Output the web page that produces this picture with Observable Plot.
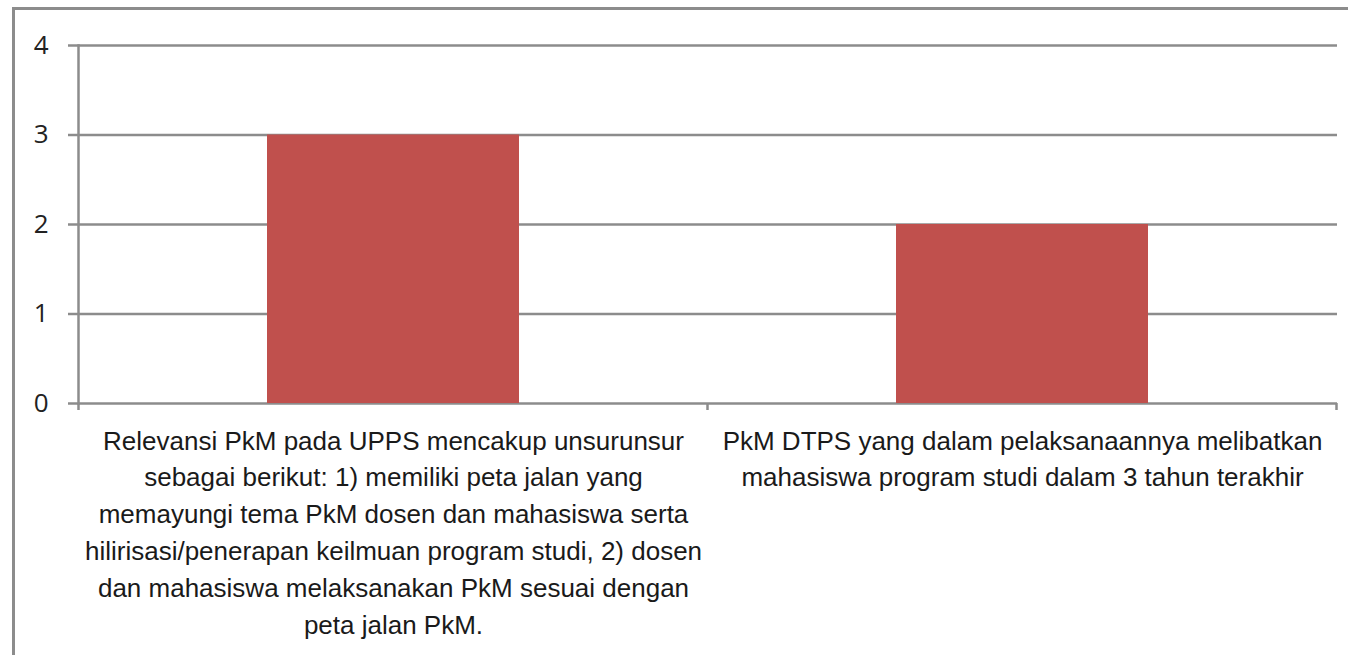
<!DOCTYPE html>
<html>
<head>
<meta charset="utf-8">
<script src="https://cdn.jsdelivr.net/npm/d3@7"></script>
<script src="https://cdn.jsdelivr.net/npm/@observablehq/plot@0.6"></script>
<style>
  html, body { margin: 0; padding: 0; background: #fff; }
  #wrap { position: relative; width: 1348px; height: 655px; overflow: hidden; }
  #frame { position: absolute; left: 12px; top: 7px; width: 1400px; height: 700px;
           border-left: 3px solid #8c8c8c; border-top: 3px solid #8c8c8c; }
  #chart { position: absolute; left: 0; top: 0; }
</style>
</head>
<body>
<div id="wrap"><div id="frame"></div><div id="chart"></div></div>
<script>
const categories = [
  "Relevansi PkM pada UPPS mencakup unsurunsur sebagai berikut: 1) memiliki peta jalan yang memayungi tema PkM dosen dan mahasiswa serta hilirisasi/penerapan keilmuan program studi, 2) dosen dan mahasiswa melaksanakan PkM sesuai dengan peta jalan PkM.",
  "PkM DTPS yang dalam pelaksanaannya melibatkan mahasiswa program studi dalam 3 tahun terakhir"
];
const values = [3, 2];
const tickLabels = [
  "Relevansi PkM pada UPPS mencakup unsurunsur\nsebagai berikut: 1) memiliki peta jalan yang\nmemayungi tema PkM dosen dan mahasiswa serta\nhilirisasi/penerapan keilmuan program studi, 2) dosen\ndan mahasiswa melaksanakan PkM sesuai dengan\npeta jalan PkM.",
  "PkM DTPS yang dalam pelaksanaannya melibatkan\nmahasiswa program studi dalam 3 tahun terakhir"
];
const yTicks = [0, 1, 2, 3, 4];

const data = categories.map((c, i) => ({category: c, value: values[i], label: tickLabels[i]}));
const gridColor = "#8c8c8c";

// ticks at band boundaries along the bottom axis
const boundaryTicks = (index, scales, values, dims) => {
  const x = scales.x;
  const bw = x.bandwidth ? x.bandwidth() : 0;
  const step = x.step ? x.step() : (x(categories[1]) - x(categories[0]));
  const y0 = dims.height - dims.marginBottom;
  const g = d3.create("svg:g");
  const xs = categories.map(c => x(c) + bw / 2 - step / 2);
  xs.push(x(categories[categories.length - 1]) + bw / 2 + step / 2);
  for (const xv of xs) {
    g.append("line").attr("x1", xv).attr("x2", xv).attr("y1", y0).attr("y2", y0 + 7)
      .attr("stroke", gridColor).attr("stroke-width", 2.5);
  }
  return g.node();
};

const chart = Plot.plot({
  width: 1348,
  height: 655,
  marginLeft: 78,
  marginRight: 11,
  marginTop: 45,
  marginBottom: 252,
  style: {background: "transparent", color: "#000"},
  x: {domain: categories, paddingInner: 0.6, paddingOuter: 0.3, axis: null},
  y: {domain: [0, 4], ticks: yTicks, axis: null},
  marks: [
    Plot.ruleY(yTicks, {stroke: gridColor, strokeWidth: 2.5}),
    Plot.frame({anchor: "left", stroke: gridColor, strokeWidth: 2.5}),
    Plot.barY(data, {x: "category", y: "value", fill: "#C0504D"}),
    Plot.axisY(yTicks, {tickSize: 10, stroke: gridColor, strokeWidth: 2.5, tickPadding: 20, fontSize: 26, fontFamily: "Open Sans", label: null, tickFormat: d => String(d), fill: "#222"}),
    boundaryTicks,
    Plot.text(data, {x: "category", y: 0, text: "label", lineAnchor: "top", dy: 20, lineHeight: 1.415, fontSize: 26, fontFamily: "Liberation Sans", fill: "#1a1a1a", className: "xlabels"})
  ]
});
document.getElementById("chart").appendChild(chart);
</script>
</body>
</html>
